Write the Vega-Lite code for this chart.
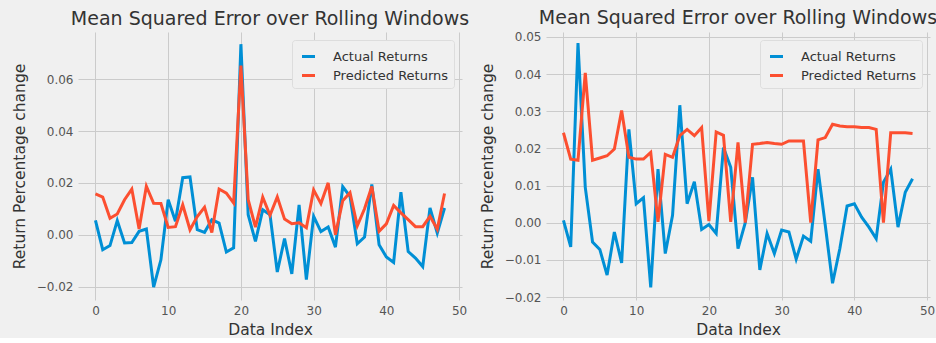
{
  "$schema": "https://vega.github.io/schema/vega-lite/v6.json",
  "background": "#f0f0f0",
  "padding": {"left": 12, "top": 8, "right": 0, "bottom": 0},
  "datasets": {
    "left": [
      {"i":0,"series":"Actual Returns","value":0.0055},{"i":1,"series":"Actual Returns","value":-0.0058},{"i":2,"series":"Actual Returns","value":-0.0042},{"i":3,"series":"Actual Returns","value":0.0054},{"i":4,"series":"Actual Returns","value":-0.0032},{"i":5,"series":"Actual Returns","value":-0.003},{"i":6,"series":"Actual Returns","value":0.0013},{"i":7,"series":"Actual Returns","value":0.0022},{"i":8,"series":"Actual Returns","value":-0.0202},{"i":9,"series":"Actual Returns","value":-0.0097},{"i":10,"series":"Actual Returns","value":0.0135},{"i":11,"series":"Actual Returns","value":0.0052},{"i":12,"series":"Actual Returns","value":0.022},{"i":13,"series":"Actual Returns","value":0.0223},{"i":14,"series":"Actual Returns","value":0.0019},{"i":15,"series":"Actual Returns","value":0.0009},{"i":16,"series":"Actual Returns","value":0.0058},{"i":17,"series":"Actual Returns","value":0.0045},{"i":18,"series":"Actual Returns","value":-0.0067},{"i":19,"series":"Actual Returns","value":-0.0051},{"i":20,"series":"Actual Returns","value":0.0735},{"i":21,"series":"Actual Returns","value":0.0077},{"i":22,"series":"Actual Returns","value":-0.0026},{"i":23,"series":"Actual Returns","value":0.0096},{"i":24,"series":"Actual Returns","value":0.0077},{"i":25,"series":"Actual Returns","value":-0.0144},{"i":26,"series":"Actual Returns","value":-0.0015},{"i":27,"series":"Actual Returns","value":-0.0151},{"i":28,"series":"Actual Returns","value":0.0115},{"i":29,"series":"Actual Returns","value":-0.0173},{"i":30,"series":"Actual Returns","value":0.0071},{"i":31,"series":"Actual Returns","value":0.0012},{"i":32,"series":"Actual Returns","value":0.003},{"i":33,"series":"Actual Returns","value":-0.0048},{"i":34,"series":"Actual Returns","value":0.0185},{"i":35,"series":"Actual Returns","value":0.0148},{"i":36,"series":"Actual Returns","value":-0.0035},{"i":37,"series":"Actual Returns","value":-0.0009},{"i":38,"series":"Actual Returns","value":0.0194},{"i":39,"series":"Actual Returns","value":-0.0039},{"i":40,"series":"Actual Returns","value":-0.0086},{"i":41,"series":"Actual Returns","value":-0.0107},{"i":42,"series":"Actual Returns","value":0.0164},{"i":43,"series":"Actual Returns","value":-0.0065},{"i":44,"series":"Actual Returns","value":-0.009},{"i":45,"series":"Actual Returns","value":-0.0123},{"i":46,"series":"Actual Returns","value":0.0103},{"i":47,"series":"Actual Returns","value":0.0006},{"i":48,"series":"Actual Returns","value":0.0103},
      {"i":0,"series":"Predicted Returns","value":0.0157},{"i":1,"series":"Predicted Returns","value":0.0145},{"i":2,"series":"Predicted Returns","value":0.0063},{"i":3,"series":"Predicted Returns","value":0.008},{"i":4,"series":"Predicted Returns","value":0.0135},{"i":5,"series":"Predicted Returns","value":0.0176},{"i":6,"series":"Predicted Returns","value":0.0022},{"i":7,"series":"Predicted Returns","value":0.0187},{"i":8,"series":"Predicted Returns","value":0.0121},{"i":9,"series":"Predicted Returns","value":0.012},{"i":10,"series":"Predicted Returns","value":0.0028},{"i":11,"series":"Predicted Returns","value":0.0031},{"i":12,"series":"Predicted Returns","value":0.0115},{"i":13,"series":"Predicted Returns","value":0.0019},{"i":14,"series":"Predicted Returns","value":0.007},{"i":15,"series":"Predicted Returns","value":0.0106},{"i":16,"series":"Predicted Returns","value":0.0008},{"i":17,"series":"Predicted Returns","value":0.0176},{"i":18,"series":"Predicted Returns","value":0.016},{"i":19,"series":"Predicted Returns","value":0.0122},{"i":20,"series":"Predicted Returns","value":0.0652},{"i":21,"series":"Predicted Returns","value":0.0135},{"i":22,"series":"Predicted Returns","value":0.0029},{"i":23,"series":"Predicted Returns","value":0.0145},{"i":24,"series":"Predicted Returns","value":0.0075},{"i":25,"series":"Predicted Returns","value":0.0146},{"i":26,"series":"Predicted Returns","value":0.006},{"i":27,"series":"Predicted Returns","value":0.0042},{"i":28,"series":"Predicted Returns","value":0.0046},{"i":29,"series":"Predicted Returns","value":0.0027},{"i":30,"series":"Predicted Returns","value":0.0173},{"i":31,"series":"Predicted Returns","value":0.012},{"i":32,"series":"Predicted Returns","value":0.02},{"i":33,"series":"Predicted Returns","value":0.0},{"i":34,"series":"Predicted Returns","value":0.0131},{"i":35,"series":"Predicted Returns","value":0.0162},{"i":36,"series":"Predicted Returns","value":0.0034},{"i":37,"series":"Predicted Returns","value":0.01},{"i":38,"series":"Predicted Returns","value":0.0186},{"i":39,"series":"Predicted Returns","value":0.0013},{"i":40,"series":"Predicted Returns","value":0.0042},{"i":41,"series":"Predicted Returns","value":0.0113},{"i":42,"series":"Predicted Returns","value":0.0084},{"i":43,"series":"Predicted Returns","value":0.0058},{"i":44,"series":"Predicted Returns","value":0.0031},{"i":45,"series":"Predicted Returns","value":0.0031},{"i":46,"series":"Predicted Returns","value":0.0071},{"i":47,"series":"Predicted Returns","value":0.0021},{"i":48,"series":"Predicted Returns","value":0.0159}
    ],
    "right": [
      {"i":0,"series":"Actual Returns","value":0.0006},{"i":1,"series":"Actual Returns","value":-0.0065},{"i":2,"series":"Actual Returns","value":0.0483},{"i":3,"series":"Actual Returns","value":0.0095},{"i":4,"series":"Actual Returns","value":-0.0052},{"i":5,"series":"Actual Returns","value":-0.0072},{"i":6,"series":"Actual Returns","value":-0.0141},{"i":7,"series":"Actual Returns","value":-0.0025},{"i":8,"series":"Actual Returns","value":-0.0108},{"i":9,"series":"Actual Returns","value":0.0251},{"i":10,"series":"Actual Returns","value":0.0051},{"i":11,"series":"Actual Returns","value":0.0067},{"i":12,"series":"Actual Returns","value":-0.0174},{"i":13,"series":"Actual Returns","value":0.0144},{"i":14,"series":"Actual Returns","value":-0.0083},{"i":15,"series":"Actual Returns","value":0.002},{"i":16,"series":"Actual Returns","value":0.0316},{"i":17,"series":"Actual Returns","value":0.0051},{"i":18,"series":"Actual Returns","value":0.011},{"i":19,"series":"Actual Returns","value":-0.0018},{"i":20,"series":"Actual Returns","value":-0.0005},{"i":21,"series":"Actual Returns","value":-0.0029},{"i":22,"series":"Actual Returns","value":0.0202},{"i":23,"series":"Actual Returns","value":0.0149},{"i":24,"series":"Actual Returns","value":-0.007},{"i":25,"series":"Actual Returns","value":0.0},{"i":26,"series":"Actual Returns","value":0.0122},{"i":27,"series":"Actual Returns","value":-0.0127},{"i":28,"series":"Actual Returns","value":-0.0029},{"i":29,"series":"Actual Returns","value":-0.0083},{"i":30,"series":"Actual Returns","value":-0.002},{"i":31,"series":"Actual Returns","value":-0.0025},{"i":32,"series":"Actual Returns","value":-0.0098},{"i":33,"series":"Actual Returns","value":-0.0036},{"i":34,"series":"Actual Returns","value":-0.005},{"i":35,"series":"Actual Returns","value":0.0144},{"i":36,"series":"Actual Returns","value":-0.0007},{"i":37,"series":"Actual Returns","value":-0.0163},{"i":38,"series":"Actual Returns","value":-0.007},{"i":39,"series":"Actual Returns","value":0.0045},{"i":40,"series":"Actual Returns","value":0.0051},{"i":41,"series":"Actual Returns","value":0.0015},{"i":42,"series":"Actual Returns","value":-0.0012},{"i":43,"series":"Actual Returns","value":-0.0043},{"i":44,"series":"Actual Returns","value":0.0109},{"i":45,"series":"Actual Returns","value":0.0144},{"i":46,"series":"Actual Returns","value":-0.0012},{"i":47,"series":"Actual Returns","value":0.0082},{"i":48,"series":"Actual Returns","value":0.0118},
      {"i":0,"series":"Predicted Returns","value":0.0242},{"i":1,"series":"Predicted Returns","value":0.0171},{"i":2,"series":"Predicted Returns","value":0.0168},{"i":3,"series":"Predicted Returns","value":0.0403},{"i":4,"series":"Predicted Returns","value":0.0168},{"i":5,"series":"Predicted Returns","value":0.0174},{"i":6,"series":"Predicted Returns","value":0.018},{"i":7,"series":"Predicted Returns","value":0.0198},{"i":8,"series":"Predicted Returns","value":0.0302},{"i":9,"series":"Predicted Returns","value":0.0176},{"i":10,"series":"Predicted Returns","value":0.0171},{"i":11,"series":"Predicted Returns","value":0.0171},{"i":12,"series":"Predicted Returns","value":0.0189},{"i":13,"series":"Predicted Returns","value":0.0002},{"i":14,"series":"Predicted Returns","value":0.0184},{"i":15,"series":"Predicted Returns","value":0.0176},{"i":16,"series":"Predicted Returns","value":0.0234},{"i":17,"series":"Predicted Returns","value":0.0251},{"i":18,"series":"Predicted Returns","value":0.0234},{"i":19,"series":"Predicted Returns","value":0.0256},{"i":20,"series":"Predicted Returns","value":0.0004},{"i":21,"series":"Predicted Returns","value":0.0244},{"i":22,"series":"Predicted Returns","value":0.0235},{"i":23,"series":"Predicted Returns","value":0.0002},{"i":24,"series":"Predicted Returns","value":0.0216},{"i":25,"series":"Predicted Returns","value":0.0},{"i":26,"series":"Predicted Returns","value":0.0211},{"i":27,"series":"Predicted Returns","value":0.0213},{"i":28,"series":"Predicted Returns","value":0.0216},{"i":29,"series":"Predicted Returns","value":0.0213},{"i":30,"series":"Predicted Returns","value":0.0211},{"i":31,"series":"Predicted Returns","value":0.022},{"i":32,"series":"Predicted Returns","value":0.022},{"i":33,"series":"Predicted Returns","value":0.022},{"i":34,"series":"Predicted Returns","value":0.0},{"i":35,"series":"Predicted Returns","value":0.0223},{"i":36,"series":"Predicted Returns","value":0.0229},{"i":37,"series":"Predicted Returns","value":0.0265},{"i":38,"series":"Predicted Returns","value":0.026},{"i":39,"series":"Predicted Returns","value":0.0258},{"i":40,"series":"Predicted Returns","value":0.0258},{"i":41,"series":"Predicted Returns","value":0.0256},{"i":42,"series":"Predicted Returns","value":0.0256},{"i":43,"series":"Predicted Returns","value":0.0251},{"i":44,"series":"Predicted Returns","value":0.0},{"i":45,"series":"Predicted Returns","value":0.0242},{"i":46,"series":"Predicted Returns","value":0.0242},{"i":47,"series":"Predicted Returns","value":0.0242},{"i":48,"series":"Predicted Returns","value":0.024}
    ]
  },
  "config": {
    "font": "DejaVu Sans",
    "view": {"stroke": null, "fill": "#f0f0f0"},
    "axis": {
      "grid": true, "gridColor": "#cbcbcb", "gridWidth": 1,
      "domain": false, "ticks": false,
      "labelFont": "DejaVu Sans", "labelFontSize": 12, "labelColor": "#555555", "labelPadding": 5,
      "titleFont": "DejaVu Sans", "titleFontSize": 15.5, "titleFontWeight": "normal", "titleColor": "#333333"
    },
    "axisX": {"titlePadding": 6},
    "title": {"font": "DejaVu Sans", "fontSize": 19, "fontWeight": "normal", "color": "#333333", "offset": 3},
    "legend": {
      "orient": "top-right", "offset": 8, "title": null,
      "labelFont": "DejaVu Sans", "labelFontSize": 13, "labelColor": "#333333",
      "symbolType": "M-0.65,0H0.65", "symbolSize": 400, "symbolStrokeWidth": 3,
      "fillColor": "#f0f0f0", "strokeColor": "#dddddd", "padding": 5, "cornerRadius": 3,
      "rowPadding": 0, "labelOffset": 13
    }
  },
  "hconcat": [
    {
      "title": "Mean Squared Error over Rolling Windows",
      "width": 384, "height": 268,
      "data": {"name": "left"},
      "mark": {"type": "line", "strokeWidth": 3},
      "encoding": {
        "x": {"field": "i", "type": "quantitative", "title": "Data Index",
              "scale": {"domain": [-2.4, 50.4], "nice": false, "zero": false},
              "axis": {"values": [0, 10, 20, 30, 40, 50], "format": "d"}},
        "y": {"field": "value", "type": "quantitative", "title": "Return Percentage change",
              "scale": {"domain": [-0.0252, 0.0782], "nice": false, "zero": false},
              "axis": {"values": [-0.02, 0, 0.02, 0.04, 0.06], "format": ".2f", "titlePadding": 9}},
        "color": {"field": "series", "type": "nominal",
                  "scale": {"domain": ["Actual Returns", "Predicted Returns"], "range": ["#008fd5", "#fc4f30"]}}
      }
    },
    {
      "title": "Mean Squared Error over Rolling Windows",
      "width": 384, "height": 268,
      "data": {"name": "right"},
      "mark": {"type": "line", "strokeWidth": 3},
      "encoding": {
        "x": {"field": "i", "type": "quantitative", "title": "Data Index",
              "scale": {"domain": [-2.4, 50.4], "nice": false, "zero": false},
              "axis": {"values": [0, 10, 20, 30, 40, 50], "format": "d"}},
        "y": {"field": "value", "type": "quantitative", "title": "Return Percentage change",
              "scale": {"domain": [-0.0208, 0.0513], "nice": false, "zero": false},
              "axis": {"values": [-0.02, -0.01, 0, 0.01, 0.02, 0.03, 0.04, 0.05], "format": ".2f", "titlePadding": 9}},
        "color": {"field": "series", "type": "nominal",
                  "scale": {"domain": ["Actual Returns", "Predicted Returns"], "range": ["#008fd5", "#fc4f30"]}}
      }
    }
  ],
  "spacing": 10,
  "resolve": {"legend": {"color": "independent"}, "scale": {"y": "independent"}}
}
